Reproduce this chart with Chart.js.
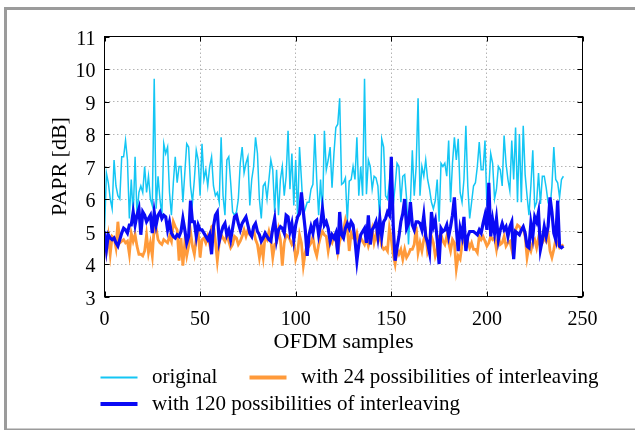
<!DOCTYPE html>
<html>
<head>
<meta charset="utf-8">
<script src="https://cdn.jsdelivr.net/npm/chart.js@4.4.1/dist/chart.umd.min.js"></script>
<style>
  html, body { margin: 0; padding: 0; background: #fff; }
</style>
</head>
<body>
<canvas id="paprChart" width="635" height="431"></canvas>
<script>
// === Data ===
const xTicks = [0, 50, 100, 150, 200, 250];
const yTicks = [3, 4, 5, 6, 7, 8, 9, 10, 11];
const seriesLabels = [
  'original',
  'with 24 possibilities of interleaving',
  'with 120 possibilities of interleaving'
];

// PAPR [dB] per OFDM sample (0..240)
const original = [
  5.0, 6.8, 6.5, 6.0, 5.7, 7.2, 6.4, 6.1, 6.0, 7.3,
  7.3, 7.8, 7.2, 5.4, 6.6, 5.5, 7.3, 5.5, 6.2, 6.4,
  6.2, 7.0, 6.2, 6.7, 6.0, 5.8, 9.7, 5.7, 6.7, 6.0,
  5.5, 7.7, 7.4, 7.6, 6.2, 5.5, 6.5, 7.3, 6.5, 7.0,
  7.0, 5.9, 6.8, 7.7, 7.6, 6.4, 5.9, 6.6, 7.5, 7.2,
  6.1, 7.7, 6.6, 6.9, 6.4, 7.0, 7.3, 6.4, 6.1, 6.2,
  5.9, 7.9, 6.1, 5.5, 7.2, 7.3, 6.5, 5.6, 5.5, 5.6,
  6.0, 7.1, 7.6, 6.8, 7.1, 7.3, 5.8, 6.6, 7.0, 7.9,
  7.4, 6.0, 5.4, 6.4, 6.5, 6.0, 6.6, 7.2, 6.9, 5.6,
  6.9, 5.5, 6.6, 7.0, 6.1, 6.7, 8.1, 6.3, 7.4, 5.8,
  7.2, 5.4, 7.6, 6.6, 5.5, 5.7, 5.9, 5.9, 6.3, 6.45,
  8.0, 6.6, 5.5, 6.6, 5.5, 8.1, 6.9, 7.2, 7.6, 6.35,
  7.4, 8.2, 8.3, 9.1, 6.45, 6.5, 6.65, 5.3, 6.55, 6.6,
  7.0, 6.6, 7.9, 6.1, 7.0, 6.1, 9.7, 6.15, 7.2, 7.0,
  6.3, 6.7, 6.65, 6.4, 5.3, 7.85, 7.6, 6.1, 6.0, 6.5,
  7.2, 5.8, 6.4, 7.1, 7.0, 5.9, 6.7, 6.75, 6.0, 4.6,
  5.9, 7.5, 6.1, 7.0, 9.1, 6.1, 7.0, 6.7, 7.2, 6.6,
  6.3, 5.9, 5.7, 5.95, 6.6, 5.3, 7.1, 7.0, 7.1, 6.7,
  7.8, 5.9, 7.1, 7.9, 7.2, 7.85, 6.2, 5.9, 6.6, 8.25,
  6.4, 5.4, 5.9, 6.4, 6.5, 7.0, 7.75, 6.9, 6.9, 7.8,
  5.8, 6.3, 7.4, 7.1, 6.0, 6.3, 7.0, 6.9, 6.4, 7.95,
  7.1, 6.6, 6.25, 7.8, 6.6, 8.2, 5.9, 8.0, 5.9, 8.25,
  6.75, 6.1, 5.5, 6.4, 7.5, 5.75, 5.9, 6.8, 5.85, 6.7,
  6.7, 6.35, 5.9, 5.7, 6.4, 7.6, 6.6, 6.5, 6.05, 6.6,
  6.7
];

const interleave24 = [
  4.9, 4.4, 4.85, 4.3, 4.85, 4.8, 4.5, 5.3, 4.65, 4.7,
  4.75, 4.65, 4.7, 4.3, 4.95, 4.7, 4.9, 4.55, 4.3, 4.3,
  4.25, 4.4, 4.9, 4.35, 4.65, 4.25, 5.15, 5.1, 4.75, 4.65,
  4.6, 4.75, 4.7, 4.65, 4.85, 4.7, 5.3, 5.15, 5.05, 4.1,
  4.8, 3.95, 4.66, 4.25, 4.55, 5.0, 4.55, 4.3, 4.8, 5.0,
  4.2, 4.75, 4.8, 4.65, 4.85, 4.6, 5.15, 5.2, 4.7, 4.1,
  4.65, 4.9, 4.8, 4.7, 4.9, 4.7, 4.5, 4.6, 4.85, 4.8,
  4.6, 4.7, 4.85, 5.05, 4.85, 5.05, 4.9, 4.85, 5.05, 4.75,
  4.6, 4.2, 4.6, 4.2, 4.85, 4.75, 5.0, 4.75, 4.2, 4.6,
  4.65, 5.05, 4.75, 3.95, 4.65, 4.9, 4.85, 4.75, 4.6, 4.7,
  4.15, 4.35, 4.9, 4.65, 3.95, 4.35, 4.6, 4.55, 4.65, 4.85,
  4.45, 4.25, 4.6, 4.85, 5.0, 4.9, 4.85, 4.4, 4.75, 4.65,
  4.85, 4.75, 4.35, 4.7, 4.85, 5.05, 5.35, 5.1, 4.4, 4.95,
  4.8, 4.75, 4.95, 4.65, 4.8, 4.7, 4.6, 4.8, 4.55, 4.75,
  5.05, 4.65, 4.9, 4.7, 4.9, 4.55, 4.45, 4.5, 4.4, 5.1,
  4.75, 4.3, 4.0, 4.45, 4.3, 4.45, 4.15, 4.45, 4.2, 4.3,
  4.45, 4.45, 4.6, 5.15, 4.35, 4.65, 4.4, 4.75, 4.95, 4.35,
  4.5, 4.85, 4.65, 4.25, 4.45, 4.85, 4.9, 4.7, 4.6, 4.85,
  4.65, 4.4, 4.75, 4.65, 3.85, 4.25, 4.15, 4.6, 4.85, 4.55,
  4.7, 4.5, 4.65, 4.45, 4.45, 4.35, 4.85, 4.75, 4.85, 4.7,
  4.55, 4.65, 4.85, 4.75, 4.8, 4.45, 4.85, 4.6, 4.65, 4.85,
  4.55, 4.65, 4.7, 4.45, 4.9, 5.05, 5.2, 5.15, 5.05, 5.1,
  4.85, 4.2, 4.55, 4.4, 4.65, 4.75, 4.5, 4.8, 4.55, 4.65,
  4.8, 4.7, 4.95, 4.4, 4.2, 4.45, 4.75, 4.65, 4.5, 4.55,
  4.6
];

const interleave120 = [
  5.0, 4.45, 4.9, 4.8, 4.75, 4.8, 4.65, 4.55, 4.75, 4.95,
  5.1, 5.05, 4.95, 5.2, 5.2, 5.6, 5.2, 5.5, 5.7, 4.9,
  5.6, 5.5, 5.3, 5.4, 5.5, 4.95, 5.6, 5.2, 5.5, 5.6,
  5.4, 5.5, 5.45, 5.05, 5.3, 4.95, 4.85, 4.8, 4.9, 4.85,
  5.0, 5.4, 5.05, 4.65, 4.85, 5.95, 5.3, 5.3, 4.85, 5.2,
  5.05, 5.05, 4.95, 4.85, 4.75, 4.9, 4.3, 5.15, 5.5, 5.6,
  4.7, 4.95, 5.15, 5.25, 4.9, 5.05, 4.75, 5.1, 5.45, 5.5,
  5.25, 5.05, 5.25, 5.35, 5.45, 5.2, 4.95, 4.85, 5.15, 5.25,
  5.0, 4.9, 4.7, 4.8, 4.95, 4.85, 4.75, 4.7, 5.1, 5.4,
  4.75, 5.05, 5.15, 5.1, 4.95, 5.5, 5.45, 5.0, 5.25, 4.75,
  5.2, 5.45, 5.55, 6.2, 5.6, 5.05, 4.25, 4.9, 5.15, 4.95,
  5.3, 5.35, 4.9, 5.2, 5.7, 5.2, 5.3, 5.1, 4.7, 4.9,
  4.8, 4.95, 4.3, 5.6, 4.9, 4.8, 5.1, 5.25, 5.1, 5.3,
  5.2, 4.75, 4.1, 4.6, 4.9, 5.0, 5.1, 4.65, 5.5, 4.6,
  5.05, 5.15, 5.3, 4.85, 5.4, 4.85, 5.3, 5.4, 5.6, 5.5,
  7.3, 5.2, 4.1, 4.5, 4.85, 5.3, 5.55, 6.0, 5.1, 5.25,
  5.9, 5.2, 5.05, 5.3, 5.3, 5.25, 5.05, 5.5, 4.85, 4.65,
  4.35, 5.6, 5.15, 5.35, 4.75, 4.0, 5.1, 5.0, 5.05, 5.2,
  4.85, 5.15, 5.5, 6.05, 5.1, 4.4, 5.1, 4.85, 5.45, 4.4,
  4.85, 5.0, 5.0, 5.0, 4.95, 4.9, 5.05, 4.95, 5.25, 5.5,
  5.05, 6.5, 4.85, 5.35, 4.95, 5.4, 4.75, 5.05, 5.25, 5.05,
  5.15, 4.85, 5.15, 5.3, 4.15, 5.0, 4.95, 4.9, 5.05, 5.15,
  4.95, 4.55, 4.5, 5.25, 4.85, 5.45, 5.3, 5.6, 4.45, 4.75,
  5.15, 4.85, 5.15, 6.05, 5.6, 4.95, 4.75, 5.95, 4.55, 4.5,
  4.55
];

// build {x, y} points, x = sample index
const toPoints = arr => arr.map((v, i) => ({ x: i, y: v }));

// === Figure decorations: frame, inward ticks, legend ===
const legendSlots = [
  { x: 100.5, y: 377.5, lw: 2 },
  { x: 249.5, y: 377.5, lw: 4 },
  { x: 100.5, y: 404, lw: 4 }
];

const figureDecor = {
  id: 'figureDecor',
  beforeDraw(chart) {
    const ctx = chart.ctx;
    ctx.save();
    ctx.fillStyle = '#fff';
    ctx.fillRect(0, 0, chart.width, chart.height);
    ctx.fillStyle = '#9b9b9b';
    ctx.fillRect(4, 7, 3, 423);
    ctx.fillRect(4, 7, chart.width - 4, 3);
    ctx.fillRect(4, 428.5, chart.width - 4, 1.5);
    ctx.restore();
  },
  afterDraw(chart) {
    const { ctx, chartArea: a, scales: { x, y } } = chart;
    ctx.save();
    ctx.strokeStyle = '#000';
    ctx.lineWidth = 1;
    ctx.strokeRect(a.left, a.top, a.right - a.left, a.bottom - a.top);

    ctx.beginPath();
    xTicks.forEach(v => {
      const px = Math.round(x.getPixelForValue(v)) + 0.5;
      ctx.moveTo(px, a.bottom); ctx.lineTo(px, a.bottom - 5);
      ctx.moveTo(px, a.top); ctx.lineTo(px, a.top + 5);
    });
    yTicks.forEach(v => {
      const py = Math.round(y.getPixelForValue(v)) + 0.5;
      ctx.moveTo(a.left, py); ctx.lineTo(a.left + 5, py);
      ctx.moveTo(a.right, py); ctx.lineTo(a.right - 5, py);
    });
    ctx.stroke();

    // legend
    ctx.font = '21px "Liberation Serif"';
    ctx.textBaseline = 'middle';
    ctx.textAlign = 'left';
    chart.data.datasets.forEach((ds, i) => {
      const s = legendSlots[i];
      ctx.strokeStyle = ds.borderColor;
      ctx.lineWidth = s.lw;
      ctx.beginPath();
      ctx.moveTo(s.x, s.y);
      ctx.lineTo(s.x + 37, s.y);
      ctx.stroke();
      ctx.fillStyle = '#000';
      ctx.fillText(ds.label, s.x + 51.5, s.y);
    });
    ctx.restore();
  }
};

const serif = { family: '"Liberation Serif", "Times New Roman", serif' };

new Chart(document.getElementById('paprChart').getContext('2d'), {
  type: 'line',
  data: {
    datasets: [{
      label: seriesLabels[0],
      data: toPoints(original),
      borderColor: '#14c6f4',
      borderWidth: 1.5,
      order: 3
    }, {
      label: seriesLabels[1],
      data: toPoints(interleave24),
      borderColor: '#ff9a3a',
      borderWidth: 2.8,
      order: 2
    }, {
      label: seriesLabels[2],
      data: toPoints(interleave120),
      borderColor: '#0a0af5',
      borderWidth: 3.2,
      order: 1
    }]
  },
  options: {
    responsive: false,
    animation: false,
    devicePixelRatio: 1,
    elements: { point: { radius: 0 }, line: { tension: 0 } },
    layout: { padding: { left: 30, right: 52.5, top: 36.5, bottom: 74.5 } },
    plugins: { legend: { display: false }, tooltip: { enabled: false } },
    scales: {
      x: {
        type: 'linear',
        min: 0,
        max: 250,
        afterFit: s => { s.height = 60; },
        ticks: { stepSize: 50, color: '#000', padding: 11, font: { ...serif, size: 20 }, maxRotation: 0 },
        grid: { color: '#b4b4b4', lineWidth: 1, drawTicks: false },
        border: { display: false, dash: [1.5, 2.5] },
        title: { display: true, text: 'OFDM samples', color: '#000', font: { ...serif, size: 22 }, padding: { top: 0, bottom: 1 } }
      },
      y: {
        min: 3,
        max: 11,
        afterFit: s => { s.width = 74.5; },
        ticks: { stepSize: 1, color: '#000', padding: 9, labelOffset: 3, font: { ...serif, size: 20 } },
        grid: { color: '#b4b4b4', lineWidth: 1, drawTicks: false },
        border: { display: false, dash: [1.5, 2.5] },
        title: { display: true, text: 'PAPR [dB]', color: '#000', font: { ...serif, size: 22 }, padding: { top: 17, bottom: 0 } }
      }
    }
  },
  plugins: [figureDecor]
});
</script>
</body>
</html>
